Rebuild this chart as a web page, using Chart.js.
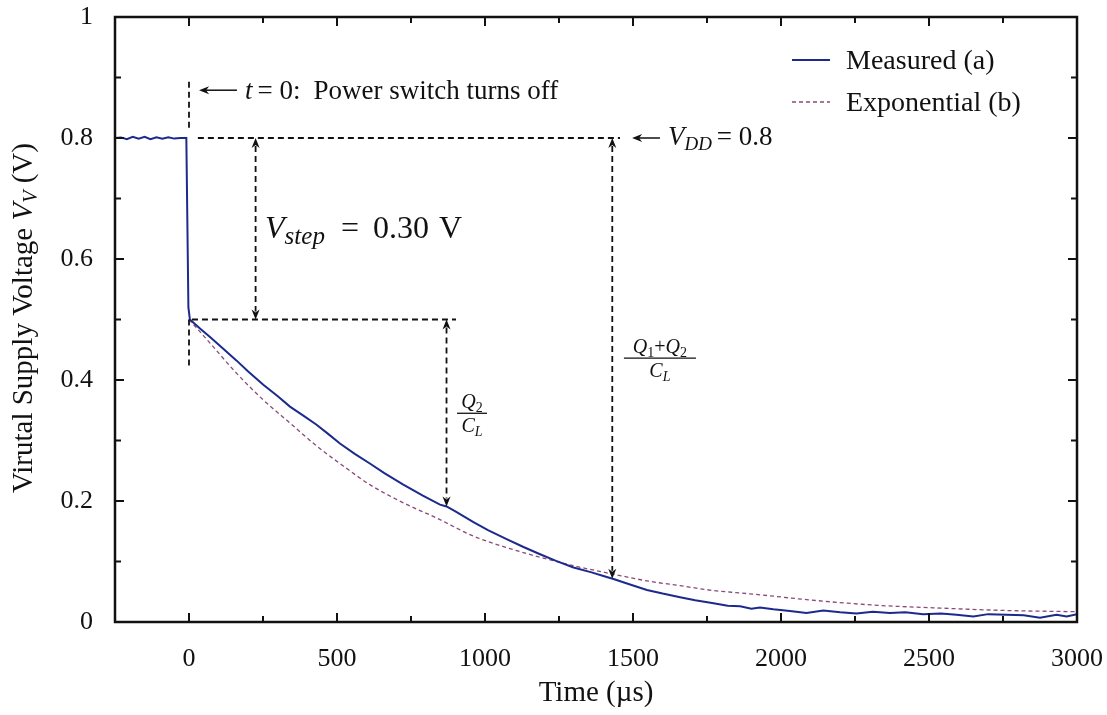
<!DOCTYPE html>
<html>
<head>
<meta charset="utf-8">
<title>Virtual supply voltage decay</title>
<script src="https://cdn.jsdelivr.net/npm/chart.js@4.4.1/dist/chart.umd.min.js"></script>
<style>
  html, body { margin: 0; padding: 0; background: #fff; }
</style>
</head>
<body>
<canvas id="vvChart" width="1107" height="715"></canvas>
<script>
// measured virtual supply voltage (a), time in us / volts
const measuredTime = [-250, -230, -210, -190, -170, -150, -130, -110, -90, -70, -50, -30, -9,
  -2, 3, 40, 71, 110, 161, 200, 251, 300, 341, 390, 431, 470, 510, 560, 611, 660,
  724, 790, 848, 870, 900, 961, 1010, 1073, 1130, 1186, 1240, 1299, 1360, 1400, 1434, 1490,
  1547, 1600, 1659, 1710, 1772, 1820, 1862, 1900, 1929, 1974, 2030, 2086, 2143, 2200, 2255,
  2310, 2368, 2420, 2480, 2540, 2593, 2650, 2700, 2762, 2820, 2875, 2931, 2965, 3000];
const measuredVolt = [0.800, 0.801, 0.798, 0.802, 0.799, 0.802, 0.798, 0.801, 0.799, 0.801, 0.799, 0.800, 0.800,
  0.52, 0.500, 0.484, 0.471, 0.454, 0.432, 0.414, 0.392, 0.373, 0.356, 0.340, 0.326, 0.311, 0.295, 0.278, 0.262, 0.246,
  0.227, 0.209, 0.194, 0.191, 0.183, 0.165, 0.152, 0.137, 0.124, 0.112, 0.101, 0.090, 0.082, 0.076, 0.071, 0.062,
  0.053, 0.047, 0.041, 0.036, 0.031, 0.027, 0.026, 0.022, 0.024, 0.021, 0.018, 0.015, 0.019, 0.016, 0.014,
  0.017, 0.015, 0.016, 0.013, 0.014, 0.012, 0.009, 0.013, 0.012, 0.011, 0.007, 0.012, 0.009, 0.013];

// exponential discharge model (b)
const expTime = [0, 71, 161, 251, 341, 431, 521, 611, 724, 836, 961, 1073, 1186, 1299, 1434,
  1547, 1659, 1772, 1861, 1929, 2086, 2311, 2537, 2762, 3000];
const expVolt = [0.500, 0.461, 0.411, 0.367, 0.329, 0.291, 0.258, 0.227, 0.197, 0.172, 0.142, 0.123, 0.107, 0.093, 0.079,
  0.068, 0.060, 0.052, 0.048, 0.045, 0.037, 0.028, 0.023, 0.019, 0.017];

// axes
const xTickLabels = ['0', '500', '1000', '1500', '2000', '2500', '3000'];
const yTickLabels = ['0', '0.2', '0.4', '0.6', '0.8', '1'];

// supply levels written on the plot
const vdd = 0.8;
const vStep = 0.30;

const serif = '"Liberation Serif", "DejaVu Serif", serif';
const R = sz => sz + 'px ' + serif;
const I = sz => 'italic ' + sz + 'px ' + serif;

function toPoints(xs, ys) {
  return xs.map((x, i) => ({ x: x, y: ys[i] }));
}

function valueAt(xs, ys, t) {
  for (let i = 1; i < xs.length; i++) {
    if (xs[i] >= t) {
      const f = (t - xs[i - 1]) / (xs[i] - xs[i - 1]);
      return ys[i - 1] + f * (ys[i] - ys[i - 1]);
    }
  }
  return ys[ys.length - 1];
}

// text made of several runs (italic, subscripts ...), dx = extra gap after a run
function drawRuns(ctx, runs, x, y, align) {
  let total = 0;
  runs.forEach(r => { ctx.font = r.f; r.w = ctx.measureText(r.t).width + (r.dx || 0); total += r.w; });
  let cx = x;
  if (align === 'center') cx = x - total / 2;
  if (align === 'right') cx = x - total;
  ctx.textBaseline = 'alphabetic';
  ctx.textAlign = 'left';
  runs.forEach(r => {
    ctx.font = r.f;
    ctx.fillText(r.t, cx, y + (r.dy || 0));
    cx += r.w;
  });
}

function arrowHead(ctx, x, y, dir, len, half) {
  ctx.beginPath();
  ctx.moveTo(x, y);
  if (dir === 'up') { ctx.lineTo(x - half, y + len); ctx.lineTo(x, y + len * 0.7); ctx.lineTo(x + half, y + len); }
  if (dir === 'down') { ctx.lineTo(x - half, y - len); ctx.lineTo(x, y - len * 0.7); ctx.lineTo(x + half, y - len); }
  if (dir === 'left') { ctx.lineTo(x + len, y - half); ctx.lineTo(x + len * 0.7, y); ctx.lineTo(x + len, y + half); }
  ctx.closePath();
  ctx.fill();
}

function dashed(ctx, x1, y1, x2, y2) {
  ctx.save();
  ctx.setLineDash([6, 4]);
  ctx.lineWidth = 1.8;
  ctx.beginPath();
  ctx.moveTo(x1, y1);
  ctx.lineTo(x2, y2);
  ctx.stroke();
  ctx.restore();
}

function fraction(ctx, num, den, cx, cy, w) {
  ctx.save();
  ctx.lineWidth = 1.3;
  ctx.beginPath();
  ctx.moveTo(cx - w / 2, cy);
  ctx.lineTo(cx + w / 2, cy);
  ctx.stroke();
  drawRuns(ctx, num, cx, cy - 5, 'center');
  drawRuns(ctx, den, cx, cy + 19, 'center');
  ctx.restore();
}

const annotations = {
  id: 'annotations',
  afterDraw(chart) {
    const ctx = chart.ctx;
    const xs = chart.scales.x;
    const ys = chart.scales.y;
    const area = chart.chartArea;
    const px = v => xs.getPixelForValue(v);
    const py = v => ys.getPixelForValue(v);
    const vLow = vdd - vStep;

    ctx.save();
    ctx.strokeStyle = '#111';
    ctx.fillStyle = '#111';

    // frame with inward ticks on all four sides
    ctx.lineWidth = 2.5;
    ctx.strokeRect(area.left, area.top, area.right - area.left, area.bottom - area.top);
    ctx.lineWidth = 2;
    xs.ticks.forEach(t => {
      const major = xTickLabels.includes(String(t.value));
      const len = major ? 9 : 6;
      const x = px(t.value);
      ctx.beginPath();
      ctx.moveTo(x, area.bottom); ctx.lineTo(x, area.bottom - len);
      ctx.moveTo(x, area.top); ctx.lineTo(x, area.top + len);
      ctx.stroke();
    });
    ys.ticks.forEach(t => {
      const major = yTickLabels.includes(String(Number(t.value.toFixed(1))));
      const len = major ? 9 : 6;
      const y = py(t.value);
      ctx.beginPath();
      ctx.moveTo(area.left, y); ctx.lineTo(area.left + len, y);
      ctx.moveTo(area.right, y); ctx.lineTo(area.right - len, y);
      ctx.stroke();
    });

    // t = 0 marker
    dashed(ctx, px(0), py(0.817), px(0), py(0.896));
    dashed(ctx, px(0), py(vLow), px(0), py(0.42));
    ctx.lineWidth = 1.5;
    ctx.beginPath();
    ctx.moveTo(px(162), py(0.879)); ctx.lineTo(px(34) + 6, py(0.879));
    ctx.stroke();
    arrowHead(ctx, px(34), py(0.879), 'left', 10, 4);
    drawRuns(ctx, [
      { t: 't', f: I(27), dx: 5 },
      { t: '= 0:', f: R(27), dx: 13 },
      { t: 'Power switch turns off', f: R(27) }
    ], px(189), py(0.865), 'left');

    // supply level lines
    dashed(ctx, px(30), py(vdd), px(1456), py(vdd));
    dashed(ctx, px(10), py(vLow), px(902), py(vLow));

    // double arrows
    const arrows = [
      [225, vdd, vLow],
      [870, vLow, valueAt(measuredTime, measuredVolt, 870)],
      [1430, vdd, valueAt(measuredTime, measuredVolt, 1430)]
    ];
    arrows.forEach(a => {
      const x = px(a[0]);
      dashed(ctx, x, py(a[1]) + 8, x, py(a[2]) - 8);
      arrowHead(ctx, x, py(a[1]), 'up', 10, 4);
      arrowHead(ctx, x, py(a[2]), 'down', 10, 4);
    });

    // VDD label
    ctx.lineWidth = 1.5;
    ctx.beginPath();
    ctx.moveTo(px(1591), py(vdd)); ctx.lineTo(px(1497) + 6, py(vdd));
    ctx.stroke();
    arrowHead(ctx, px(1497), py(vdd), 'left', 10, 4);
    drawRuns(ctx, [
      { t: 'V', f: I(27) },
      { t: 'DD', f: I(19), dy: 5, dx: 5 },
      { t: '= ' + vdd.toFixed(1), f: R(27) }
    ], px(1618), py(0.788), 'left');

    // Vstep label
    drawRuns(ctx, [
      { t: 'V', f: I(32) },
      { t: 'step', f: I(25), dy: 6, dx: 16 },
      { t: '=', f: R(32), dx: 14 },
      { t: vStep.toFixed(2), f: R(32), dx: 10 },
      { t: 'V', f: R(32) }
    ], px(257), py(0.635), 'left');

    // charge fractions
    fraction(ctx,
      [{ t: 'Q', f: I(20) }, { t: '2', f: R(14), dy: 4 }],
      [{ t: 'C', f: I(20) }, { t: 'L', f: I(14), dy: 4 }],
      px(956), py(0.345), 30);
    fraction(ctx,
      [{ t: 'Q', f: I(20) }, { t: '1', f: R(14), dy: 4 }, { t: '+', f: R(20) },
       { t: 'Q', f: I(20) }, { t: '2', f: R(14), dy: 4 }],
      [{ t: 'C', f: I(20) }, { t: 'L', f: I(14), dy: 4 }],
      px(1591), py(0.436), 72);

    // legend
    const ds = chart.data.datasets;
    const lx = area.right - 285;
    [[ds[0], area.top + 43], [ds[1], area.top + 85]].forEach(item => {
      const d = item[0];
      const y = item[1];
      ctx.save();
      ctx.strokeStyle = d.borderColor;
      ctx.lineWidth = d.borderWidth;
      ctx.setLineDash(d.borderDash || []);
      ctx.beginPath();
      ctx.moveTo(lx, y); ctx.lineTo(lx + 38, y);
      ctx.stroke();
      ctx.restore();
      ctx.fillStyle = '#111';
      drawRuns(ctx, [{ t: d.label, f: R(28) }], lx + 54, y + 9, 'left');
    });

    // y axis title
    ctx.save();
    ctx.translate(32, 318);
    ctx.rotate(-Math.PI / 2);
    drawRuns(ctx, [
      { t: 'Virutal Supply Voltage ', f: R(29) },
      { t: 'V', f: I(29) },
      { t: 'V', f: I(20), dy: 5 },
      { t: ' (V)', f: R(29) }
    ], 0, 0, 'center');
    ctx.restore();

    ctx.restore();
  }
};

// no label overhang padding, the layout padding alone places the plot box
function noOverhang(s) {
  s.paddingTop = 0;
  s.paddingBottom = 0;
  s.paddingLeft = 0;
  s.paddingRight = 0;
}

const ctx = document.getElementById('vvChart').getContext('2d');
const chart = new Chart(ctx, {
  type: 'line',
  data: {
    datasets: [{
      label: 'Measured (a)',
      data: toPoints(measuredTime, measuredVolt),
      borderColor: '#1b2a8c',
      borderWidth: 2,
      pointRadius: 0,
      tension: 0
    }, {
      label: 'Exponential (b)',
      data: toPoints(expTime, expVolt),
      borderColor: '#8a4a78',
      borderWidth: 1.3,
      borderDash: [4, 3],
      pointRadius: 0,
      cubicInterpolationMode: 'monotone'
    }]
  },
  options: {
    responsive: false,
    animation: false,
    devicePixelRatio: 1,
    layout: { padding: { top: 17, right: 30, left: 0, bottom: 0 } },
    plugins: {
      legend: { display: false },
      tooltip: { enabled: false }
    },
    scales: {
      x: {
        type: 'linear',
        min: -250,
        max: 3000,
        grid: { display: false, drawTicks: false },
        border: { display: false },
        ticks: {
          stepSize: 250,
          autoSkip: false,
          maxRotation: 0,
          padding: 22,
          color: '#111',
          font: { family: serif, size: 26 },
          callback: v => xTickLabels.includes(String(v)) ? String(v) : ''
        },
        title: {
          display: true,
          text: 'Time (µs)',
          color: '#111',
          font: { family: serif, size: 29 },
          padding: { top: 2, bottom: 4 }
        },
        afterFit: s => { s.height = 93; noOverhang(s); }
      },
      y: {
        min: 0,
        max: 1,
        grid: { display: false, drawTicks: false },
        border: { display: false },
        ticks: {
          stepSize: 0.1,
          autoSkip: false,
          padding: 22,
          color: '#111',
          font: { family: serif, size: 26 },
          callback: v => {
            const s = String(Number(v.toFixed(1)));
            return yTickLabels.includes(s) ? s : '';
          }
        },
        afterFit: s => { s.width = 115; noOverhang(s); }
      }
    }
  },
  plugins: [annotations]
});
</script>
</body>
</html>
